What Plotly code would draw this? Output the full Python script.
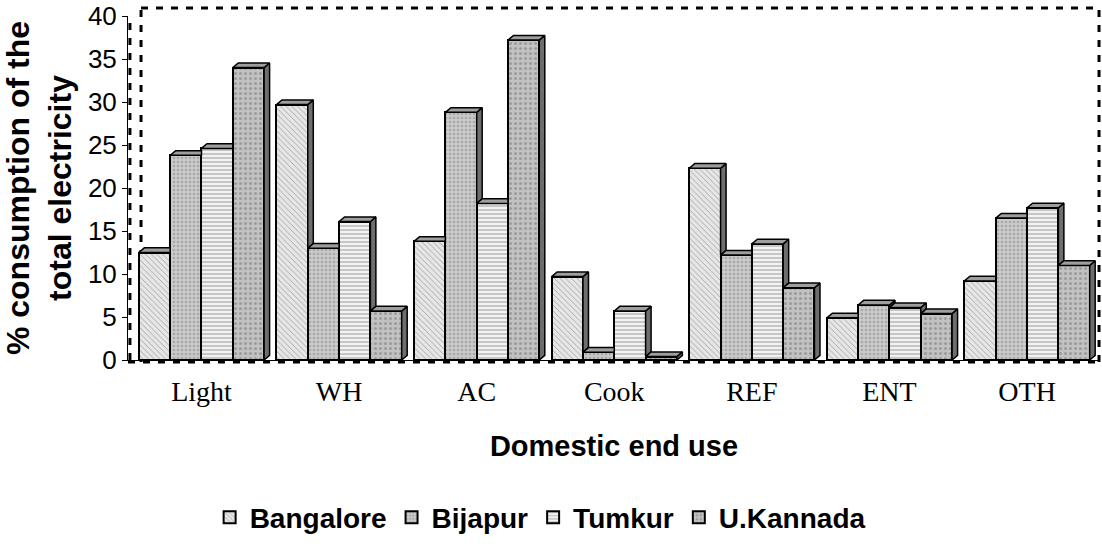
import plotly.graph_objects as go

# Domestic end-use categories and share of total electricity (%) per district
categories = ["Light", "WH", "AC", "Cook", "REF", "ENT", "OTH"]
bangalore = [12.5, 29.7, 13.8, 9.7, 22.3, 4.9, 9.2]
bijapur = [23.8, 13.0, 28.8, 0.9, 12.2, 6.4, 16.5]
tumkur = [24.6, 16.1, 18.2, 5.7, 13.5, 6.1, 17.7]
u_kannada = [34.0, 5.7, 37.2, 0.4, 8.4, 5.4, 11.0]

series_names = ["Bangalore", "Bijapur", "Tumkur", "U.Kannada"]
series_values = [bangalore, bijapur, tumkur, u_kannada]

# styling per series: (background, pattern shape, pattern colour, size, solidity)
styles = [
    ("#e6e6e6", "\\", "#a4a4a4", 4, 0.22),
    ("#cbcbcb", ".", "#a8a8a8", 4, 0.35),
    ("#f2f2f2", "-", "#b4b4b4", 4, 0.35),
    ("#c2c2c2", ".", "#9c9c9c", 5, 0.3),
]

BAR_W = 0.2275          # width of one bar in category units
DEPTH_X = 0.040         # 3-D depth offset, category units
DEPTH_Y = 0.54          # 3-D depth offset, value units
X_RANGE = [-0.534, 6.53]


def bar_center(i, j):
    return i + (j - 1.5) * BAR_W


fig = go.Figure()

# front faces of the bars
for j, (name, vals) in enumerate(zip(series_names, series_values)):
    bg, shape, fg, size, sol = styles[j]
    xs = [bar_center(i, j) for i in range(len(categories))]
    fig.add_trace(go.Bar(
        x=xs, y=vals, width=BAR_W, name=name,
        marker=dict(color=bg, line=dict(color="black", width=2),
                    pattern=dict(shape=shape, fgcolor=fg, bgcolor=bg,
                                 size=size, solidity=sol, fillmode="replace")),
        hoverinfo="skip",
    ))

# visible parts of the top and side faces, derived from the same values
top_x, top_y, side_x, side_y = [], [], [], []
for i in range(len(categories)):
    for j in range(4):
        h = series_values[j][i]
        left = bar_center(i, j) - BAR_W / 2
        right = left + BAR_W
        nxt = series_values[j + 1][i] if j < 3 else None
        # top face (clipped where the next, taller bar hides it)
        if nxt is not None and nxt > h:
            top_x += [left, right, right, left + DEPTH_X, left, None]
        else:
            top_x += [left, right, right + DEPTH_X, left + DEPTH_X, left, None]
        top_y += [h, h, h + DEPTH_Y, h + DEPTH_Y, h, None]
        # side face (only the part above the next bar)
        base = 0.0 if nxt is None else nxt
        if base < h:
            side_x += [right, right + DEPTH_X, right + DEPTH_X, right, right, None]
            side_y += [base, base + DEPTH_Y, h + DEPTH_Y, h, base, None]

fig.add_trace(go.Scatter(x=side_x, y=side_y, mode="lines", fill="toself",
                         fillcolor="#6e6e6e", line=dict(color="black", width=1.5),
                         showlegend=False, hoverinfo="skip"))
fig.add_trace(go.Scatter(x=top_x, y=top_y, mode="lines", fill="toself",
                         fillcolor="#9e9e9e", line=dict(color="black", width=1.5),
                         showlegend=False, hoverinfo="skip"))

# dashed wall borders
dash = "7px,8px"
wall = dict(type="line", xref="paper", yref="paper", layer="below",
            line=dict(color="black", width=3, dash=dash))
fig.add_shape(**wall, x0=0.0134, x1=0.0134, y0=-0.006, y1=1.023)
fig.add_shape(**wall, x0=0.0134, x1=0.999, y0=1.023, y1=1.023)
fig.add_shape(**wall, x0=0.999, x1=0.999, y0=-0.006, y1=1.023)
fig.add_shape(**wall, x0=0.0, x1=0.999, y0=-0.006, y1=-0.006)
fig.add_shape(**wall, x0=0.002, x1=0.002, y0=0.0, y1=1.0)

bold = dict(family="Liberation Sans, Arial", color="black", weight="bold")

fig.update_layout(
    width=1102, height=544,
    margin=dict(l=128, r=2, t=16, b=182),
    paper_bgcolor="white", plot_bgcolor="white",
    barmode="overlay", bargap=0,
    showlegend=True,
    legend=dict(orientation="h", x=0.424, xanchor="center", y=-0.458, yanchor="middle",
                font=dict(**bold, size=28),
                itemsizing="constant", traceorder="normal", itemwidth=30),
    xaxis=dict(range=X_RANGE, tickvals=list(range(len(categories))), ticktext=categories,
               showgrid=False, zeroline=False, showline=True, linecolor="black", linewidth=1,
               ticks="", ticklabelstandoff=6,
               tickfont=dict(family="Liberation Serif, Times New Roman", size=28, color="black"),
               title=dict(text="Domestic end use", standoff=30, font=dict(**bold, size=29))),
    yaxis=dict(range=[0, 40], dtick=5, showgrid=False, zeroline=False,
               showline=True, linecolor="black", linewidth=1,
               ticks="outside", ticklen=5, tickcolor="black",
               tickfont=dict(family="Liberation Sans, Arial", size=26, color="black"),
               title=dict(text="% consumption of the<br>total electricity", standoff=8,
                          font=dict(**bold, size=32))),
)

fig.write_html("out.html")
